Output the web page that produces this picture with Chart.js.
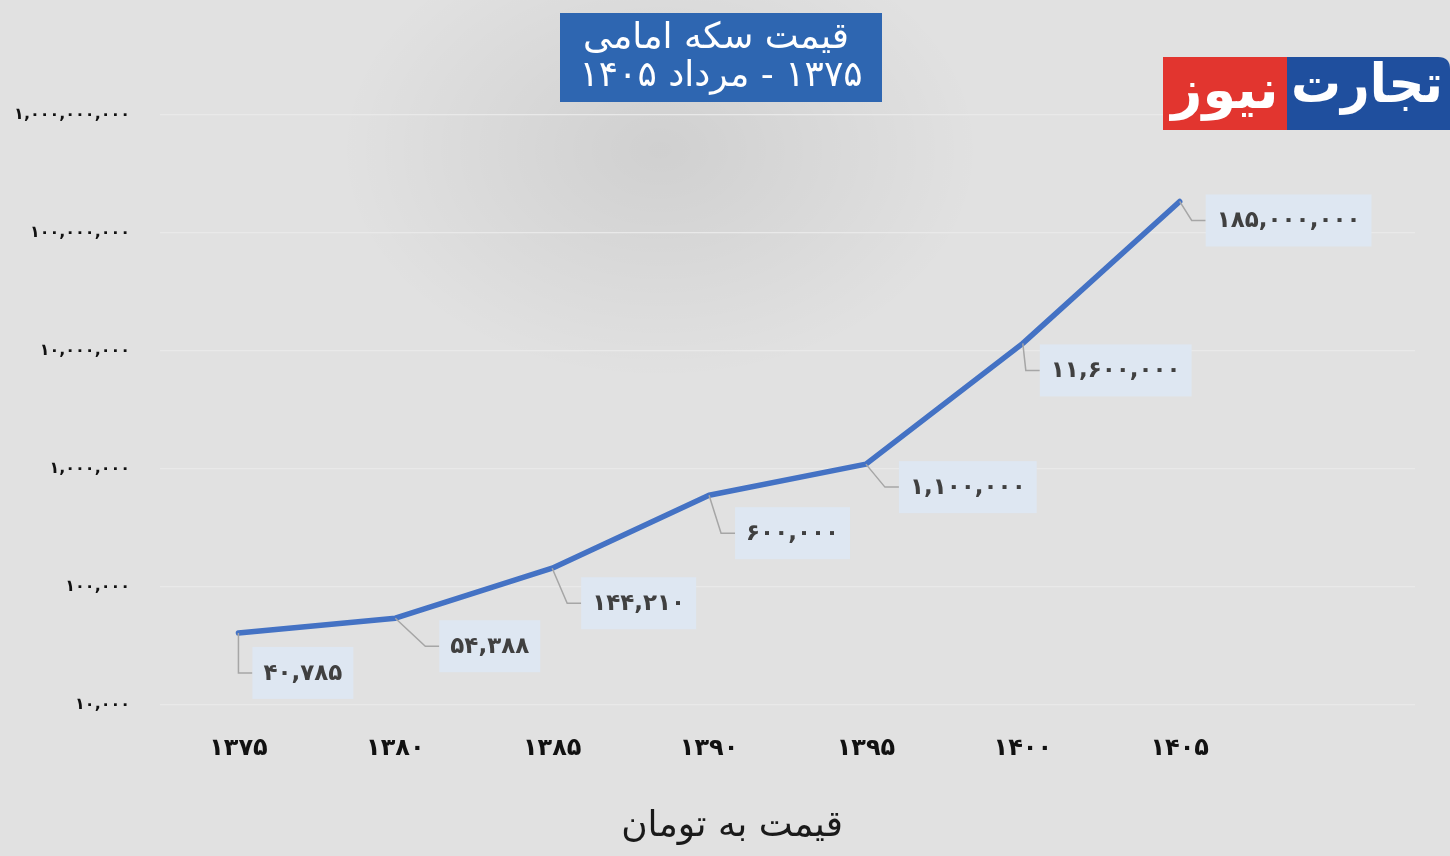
<!DOCTYPE html>
<html>
<head>
<meta charset="utf-8">
<script src="https://cdn.jsdelivr.net/npm/chart.js@4.4.1/dist/chart.umd.min.js"></script>
<style>
  html, body { margin: 0; padding: 0; background: #e1e1e1; }
  #wrap { width: 1450px; height: 856px; }
</style>
</head>
<body>
<div id="wrap"><canvas id="myChart"></canvas></div>
<script>
// داده‌ها
const years = ["۱۳۷۵", "۱۳۸۰", "۱۳۸۵", "۱۳۹۰", "۱۳۹۵", "۱۴۰۰", "۱۴۰۵", ""];
const prices = [40785, 54388, 144210, 600000, 1100000, 11600000, 185000000];
const yTicks = [10000, 100000, 1000000, 10000000, 100000000, 1000000000];
const titleLines = ["قیمت سکه امامی", "۱۳۷۵ - مرداد ۱۴۰۵"];
const axisTitle = "قیمت به تومان";

const faDigits = "۰۱۲۳۴۵۶۷۸۹";
const toFa = (n) =>
  Number(n).toLocaleString("en-US").replace(/\d/g, (d) => faDigits[d]);

// where each value box sits relative to its point (dx to box left, dy to box middle)
const labelOffsets = [
  [14, 40], [44, 28], [29, 35], [26, 38], [33, 23], [17, 27], [26, 19],
];

const FONT = "'DejaVu Sans', sans-serif";

const backdrop = {
  id: "backdrop",
  beforeDraw(chart) {
    const { ctx, width, height } = chart;
    ctx.save();
    ctx.fillStyle = "#e1e1e1";
    ctx.fillRect(0, 0, width, height);
    ctx.translate(660, 150);
    ctx.scale(1.4, 1);
    const g = ctx.createRadialGradient(0, 0, 5, 0, 0, 230);
    g.addColorStop(0, "rgba(0,0,0,0.075)");
    g.addColorStop(1, "rgba(0,0,0,0)");
    ctx.fillStyle = g;
    ctx.fillRect(-400, -200, 800, 500);
    ctx.restore();
  },
};

const valueLabels = {
  id: "valueLabels",
  afterDatasetsDraw(chart) {
    const { ctx } = chart;
    const meta = chart.getDatasetMeta(0);
    ctx.save();
    ctx.font = "bold 23px " + FONT;
    ctx.textBaseline = "middle";
    meta.data.forEach((pt, i) => {
      const [dx, dy] = labelOffsets[i];
      const text = toFa(prices[i]);
      const tw = ctx.measureText(text).width;
      const bx = pt.x + dx;
      const by = pt.y + dy;
      const bw = tw + 22;
      const bh = 52;
      // leader line
      ctx.strokeStyle = "#a6a6a6";
      ctx.lineWidth = 1.5;
      ctx.beginPath();
      ctx.moveTo(pt.x, pt.y);
      ctx.lineTo(bx - 14, by);
      ctx.lineTo(bx, by);
      ctx.stroke();
      ctx.fillStyle = "#dee7f2";
      ctx.fillRect(bx, by - bh / 2, bw, bh);
      ctx.fillStyle = "#404040";
      ctx.textAlign = "left";
      ctx.fillText(text, bx + 11, by + 1);
    });
    ctx.restore();
  },
};

const headerBits = {
  id: "headerBits",
  afterDraw(chart) {
    const { ctx } = chart;
    ctx.save();
    // title box
    ctx.fillStyle = "#2e66b1";
    ctx.fillRect(560, 13, 322, 89);
    ctx.fillStyle = "#ffffff";
    ctx.font = "36px " + FONT;
    ctx.textAlign = "center";
    ctx.textBaseline = "middle";
    ctx.direction = "rtl";
    ctx.fillText(titleLines[0], 716, 39, 300);
    ctx.fillText(titleLines[1], 721, 77, 304);

    // axis title
    ctx.fillStyle = "#1a1a1a";
    ctx.font = "36px " + FONT;
    ctx.fillText(axisTitle, 732, 827);

    // logo
    ctx.fillStyle = "#e2352f";
    ctx.fillRect(1163, 57, 124, 73);
    ctx.fillStyle = "#1f4f9e";
    ctx.beginPath();
    ctx.moveTo(1287, 57);
    ctx.lineTo(1438, 57);
    ctx.quadraticCurveTo(1450, 57, 1450, 69);
    ctx.lineTo(1450, 130);
    ctx.lineTo(1287, 130);
    ctx.closePath();
    ctx.fill();
    ctx.fillStyle = "#ffffff";
    ctx.font = "bold 54px " + FONT;
    ctx.fillText("نیوز", 1225, 94, 112);
    ctx.fillText("تجارت", 1367, 88, 152);
    ctx.restore();
  },
};

new Chart(document.getElementById("myChart"), {
  type: "line",
  data: {
    labels: years,
    datasets: [
      {
        data: prices,
        borderColor: "#4472c4",
        borderWidth: 5.5,
        pointRadius: 0,
        tension: 0,
        borderCapStyle: "round",
        borderJoinStyle: "round",
      },
    ],
  },
  options: {
    responsive: true,
    maintainAspectRatio: false,
    animation: false,
    layout: { padding: { top: 115, right: 35, left: 0, bottom: 0 } },
    plugins: {
      legend: { display: false },
      tooltip: { enabled: false },
    },
    scales: {
      x: {
        offset: true,
        grid: { display: false, drawTicks: false },
        border: { display: false },
        ticks: {
          padding: 29,
          color: "#111111",
          font: { family: FONT, size: 24, weight: "bold" },
        },
        afterFit(scale) {
          scale.height = 151;
        },
      },
      y: {
        type: "logarithmic",
        min: 10000,
        max: 1000000000,
        grid: { color: "#e9e9e9", lineWidth: 1.2, drawTicks: false },
        border: { display: false },
        afterBuildTicks(scale) {
          scale.ticks = yTicks.map((v) => ({ value: v }));
        },
        ticks: {
          padding: 30,
          color: "#111111",
          font: { family: FONT, size: 16, weight: "bold" },
          callback: (v) => toFa(v),
        },
        afterFit(scale) {
          scale.width = 160;
        },
      },
    },
  },
  plugins: [backdrop, valueLabels, headerBits],
});
</script>
</body>
</html>
